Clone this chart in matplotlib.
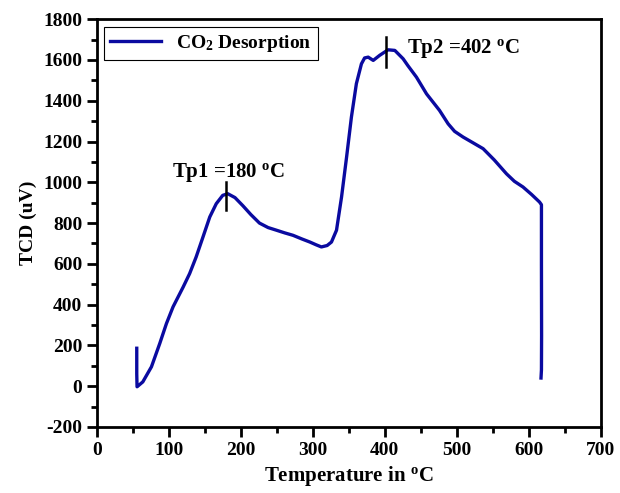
import matplotlib
matplotlib.use("Agg")
import matplotlib.pyplot as plt
from matplotlib.ticker import MultipleLocator

plt.rcParams["font.family"] = "Liberation Serif"
plt.rcParams["font.weight"] = "bold"
plt.rcParams["axes.unicode_minus"] = False
plt.rcParams["mathtext.fontset"] = "custom"
plt.rcParams["mathtext.rm"] = "Liberation Serif:bold"
plt.rcParams["mathtext.it"] = "Liberation Serif:bold"
plt.rcParams["mathtext.bf"] = "Liberation Serif:bold"

# TPD trace
temp = [55.6, 55.6, 56, 64, 76, 87.5, 96.8, 106, 120, 129, 138, 147.6, 157,
        166, 175, 182, 192, 203, 214, 226, 238, 249.6, 261, 272.6, 285, 296,
        305, 312, 320, 326, 333, 340, 347, 353.7, 360.6, 367.6, 372, 377, 384,
        393, 404.6, 414, 425.5, 432, 444, 458, 476, 488, 497, 508.8, 522,
        536.6, 552, 569, 580, 592, 604, 615, 617.6, 617.6, 617.8, 617.6, 617]
tcd = [186, 60, -3, 21, 95, 209, 307, 389, 486, 552, 633, 732, 830, 895, 936,
       944, 925, 885, 842, 800, 778, 765, 752, 740, 722, 707, 693, 683, 690,
       707, 765, 928, 1124, 1320, 1484, 1581, 1610, 1614, 1598, 1623, 1650,
       1647, 1606, 1573, 1516, 1434, 1353, 1287, 1250, 1222, 1195, 1165, 1110,
       1042, 1005, 977, 940, 903, 890, 600, 250, 80, 40]

peak_temps = [180, 402]
peak_tick_lo = [863, 1565]
peak_tick_hi = [1001, 1712]
peak_labels = ["Tp1 =180 $^{\\mathbf{o}}$C", "Tp2 =402 $^{\\mathbf{o}}$C"]
label_pos = [(183.5, 1026), (510, 1636)]

fig = plt.figure(figsize=(6.2, 4.93), dpi=100)
ax = fig.add_axes([0.156, 0.134, 0.813, 0.827])

ax.plot(temp, tcd, color="#0a0aa0", lw=2.4, label="CO$_2$ Desorption")

for t, lo, hi in zip(peak_temps, peak_tick_lo, peak_tick_hi):
    ax.plot([t, t], [lo, hi], color="black", lw=1.8)
for s, (x, y) in zip(peak_labels, label_pos):
    ax.text(x, y, s, ha="center", va="baseline", fontsize=15, fontweight="bold")

ax.set_xlim(0, 700)
ax.set_ylim(-200, 1800)
ax.xaxis.set_major_locator(MultipleLocator(100))
ax.xaxis.set_minor_locator(MultipleLocator(50))
ax.yaxis.set_major_locator(MultipleLocator(200))
ax.yaxis.set_minor_locator(MultipleLocator(100))
ax.tick_params(which="both", direction="out", top=False, right=False,
               labelsize=14, width=2)
ax.tick_params(which="major", length=7)
ax.tick_params(which="minor", length=4)
for lab in ax.get_xticklabels() + ax.get_yticklabels():
    lab.set_fontweight("bold")
for sp in ax.spines.values():
    sp.set_linewidth(2)

ax.set_xlabel("Temperature in $^{\\mathbf{o}}$C", fontsize=15, fontweight="bold")
ax.set_ylabel("TCD (uV)", fontsize=14, fontweight="bold")

leg = ax.legend(loc="upper left", fontsize=14, fancybox=False, framealpha=1,
                edgecolor="black", handlelength=2.6, borderaxespad=0.4,
                borderpad=0.3)
leg.get_frame().set_linewidth(0.8)

fig.savefig("out.png", dpi=100)
